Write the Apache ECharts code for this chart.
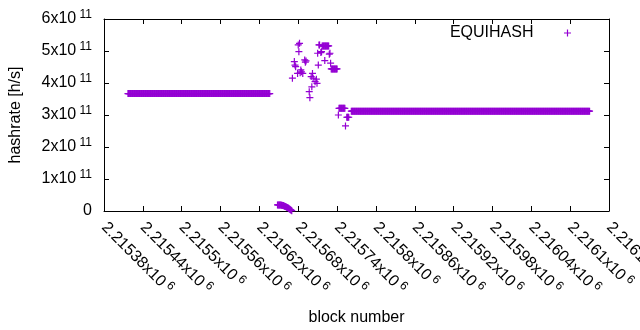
<!DOCTYPE html>
<html>
<head>
<meta charset="utf-8">
<title>EQUIHASH hashrate</title>
<script src="https://cdn.jsdelivr.net/npm/echarts@6/dist/echarts.min.js"></script>
<style>
  html, body { margin: 0; padding: 0; background: #fff; }
  #chart { width: 640px; height: 330px; }
</style>
</head>
<body>
<div id="chart"></div>
<script>
// x axis: block numbers, ticks every 60 blocks
const blockMin = 2215380;
const blockMax = 2216160;
const blockStep = 60;

// y axis: hashrate ticks
const rateMax = 6e11;
const rateStep = 1e11;

// flat stretches: every block in [from, to] has the same hashrate
const runFrom = [2215417, 2215762];
const runTo = [2215636, 2216130];
const runRate = [3.67e11, 3.12e11];

// low tail right after the first flat stretch
const lowBlocks = [2215648, 2215649, 2215650, 2215651, 2215652, 2215653, 2215654, 2215655,
  2215656, 2215657, 2215658, 2215659, 2215660, 2215661, 2215662, 2215663, 2215664, 2215665,
  2215666, 2215667, 2215668, 2215669, 2215670];
const lowRate = [1.9e10, 1.9e10, 1.9e10, 1.88e10, 1.85e10, 1.85e10, 1.8e10, 1.78e10,
  1.75e10, 1.7e10, 1.6e10, 1.5e10, 1.4e10, 1.3e10, 1.2e10, 1.1e10, 1.0e10, 0.85e10,
  0.7e10, 0.55e10, 0.4e10, 0.25e10, 0.1e10];

// scattered blocks between the two flat stretches
const scatterBlocks = [2215671, 2215674, 2215675, 2215676, 2215679, 2215680, 2215681, 2215682,
  2215683, 2215684, 2215685, 2215687, 2215690, 2215691, 2215692, 2215697, 2215698, 2215700,
  2215701, 2215702, 2215703, 2215706, 2215708, 2215709, 2215710, 2215711, 2215712, 2215713,
  2215715, 2215716,
  2215717, 2215718, 2215719, 2215720, 2215721, 2215722, 2215723, 2215724, 2215725, 2215726, 2215727,
  2215721, 2215728, 2215729, 2215730,
  2215731, 2215732, 2215733, 2215734, 2215735, 2215736, 2215737, 2215738, 2215739, 2215740,
  2215742,
  2215743, 2215744, 2215745, 2215746, 2215747, 2215748, 2215749, 2215750, 2215751, 2215752,
  2215753, 2215755, 2215756, 2215757, 2215758];
const scatterRate = [4.15e11, 4.67e11, 4.56e11, 4.51e11, 4.30e11, 5.19e11, 4.98e11, 5.24e11,
  4.32e11, 4.41e11, 4.35e11, 4.30e11, 4.72e11, 4.65e11, 4.69e11, 3.73e11, 3.54e11, 4.20e11,
  3.88e11, 4.30e11, 4.15e11, 4.04e11, 4.12e11, 3.99e11, 4.93e11, 4.56e11, 5.19e11, 5.19e11,
  4.95e11, 4.98e11,
  5.16e11, 5.16e11, 5.16e11, 5.16e11, 5.16e11, 5.16e11, 5.16e11, 5.16e11, 5.16e11, 5.16e11, 5.16e11,
  4.70e11, 4.90e11, 4.93e11, 4.62e11,
  4.44e11, 4.44e11, 4.44e11, 4.44e11, 4.44e11, 4.44e11, 4.44e11, 4.44e11, 4.44e11, 4.44e11,
  3.00e11,
  3.21e11, 3.21e11, 3.21e11, 3.21e11, 3.21e11, 3.21e11, 3.21e11, 3.21e11, 3.21e11, 3.21e11,
  2.66e11, 2.93e11, 2.93e11, 2.93e11, 2.93e11];

const points = [];
runFrom.forEach(function (from, i) {
  for (let b = from; b <= runTo[i]; b++) points.push([b, runRate[i]]);
});
lowBlocks.forEach(function (b, i) { points.push([b, lowRate[i]]); });
scatterBlocks.forEach(function (b, i) { points.push([b, scatterRate[i]]); });

const font = 'Liberation Sans, Arial, sans-serif';
const purple = '#9400d3';
// gnuplot style "+" point
const plus = 'path://M0,2.9H7V4.1H0Z M2.9,0H4.1V7H2.9Z';

const rich = {
  b: { fontSize: 16, fontFamily: font, color: '#000' },
  s: { fontSize: 12, fontFamily: font, color: '#000', padding: [0, 0, 8, 0] }
};

const frame = { show: true, onZero: false, lineStyle: { color: '#000', width: 1 } };
const ticks = { show: true, inside: true, length: 5, lineStyle: { color: '#000' } };

const chart = echarts.init(document.getElementById('chart'));
chart.setOption({
  animation: false,
  backgroundColor: '#fff',
  grid: { left: 104, right: 31, top: 19, bottom: 119, outerBoundsMode: 'none' },
  legend: {
    data: [{ name: 'EQUIHASH', icon: plus }],
    right: 64,
    top: 20,
    align: 'right',
    itemWidth: 58,
    itemHeight: 7,
    itemStyle: { opacity: 1 },
    textStyle: { fontSize: 16, fontFamily: font, color: '#000' }
  },
  xAxis: [{
    type: 'value',
    min: blockMin,
    max: blockMax,
    interval: blockStep,
    position: 'bottom',
    axisLine: frame,
    axisTick: ticks,
    splitLine: { show: false },
    axisLabel: {
      rotate: -45,
      margin: 14,
      interval: 0,
      showMinLabel: true,
      showMaxLabel: true,
      formatter: function (v) {
        return '{b|' + parseFloat((v / 1e6).toFixed(5)) + 'x10}{s| 6}';
      },
      rich: rich
    },
    name: 'block number',
    nameLocation: 'middle',
    nameGap: 99,
    nameTextStyle: { fontSize: 16, fontFamily: font, color: '#000' }
  }, {
    type: 'value',
    min: blockMin,
    max: blockMax,
    interval: blockStep,
    position: 'top',
    axisLine: frame,
    axisTick: ticks,
    splitLine: { show: false },
    axisLabel: { show: false }
  }],
  yAxis: [{
    type: 'value',
    min: 0,
    max: rateMax,
    interval: rateStep,
    position: 'left',
    axisLine: frame,
    axisTick: ticks,
    splitLine: { show: false },
    axisLabel: {
      margin: 12,
      formatter: function (v) {
        if (v === 0) return '{b|0}';
        return '{b|' + Math.round(v / 1e11) + 'x10}{s| 11}';
      },
      rich: rich
    },
    name: 'hashrate [h/s]',
    nameLocation: 'middle',
    nameGap: 80,
    nameTextStyle: { fontSize: 16, fontFamily: font, color: '#000' }
  }, {
    type: 'value',
    min: 0,
    max: rateMax,
    interval: rateStep,
    position: 'right',
    axisLine: frame,
    axisTick: ticks,
    splitLine: { show: false },
    axisLabel: { show: false }
  }],
  series: [{
    name: 'EQUIHASH',
    type: 'scatter',
    xAxisIndex: 0,
    yAxisIndex: 0,
    symbol: plus,
    symbolSize: 7,
    itemStyle: { color: purple, opacity: 1 },
    data: points
  }]
});
</script>
</body>
</html>
